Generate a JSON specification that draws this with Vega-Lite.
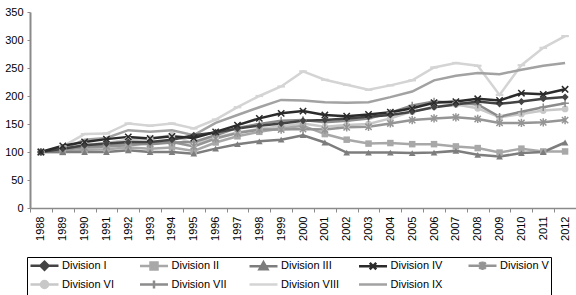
{
  "$schema": "https://vega.github.io/schema/vega-lite/v6.json",
  "width": 546,
  "height": 196,
  "autosize": {"type": "none"},
  "padding": {"left": 30, "top": 12, "right": 0, "bottom": 87},
  "background": "white",
  "config": {"view": {"stroke": null}, "font": "Liberation Sans"},
  "data": {"values": [
    {"year":"1988","division":"Division VIII","value":100},{"year":"1989","division":"Division VIII","value":110},{"year":"1990","division":"Division VIII","value":132},{"year":"1991","division":"Division VIII","value":133},{"year":"1992","division":"Division VIII","value":151},{"year":"1993","division":"Division VIII","value":147},{"year":"1994","division":"Division VIII","value":151},{"year":"1995","division":"Division VIII","value":142},{"year":"1996","division":"Division VIII","value":158},{"year":"1997","division":"Division VIII","value":180},{"year":"1998","division":"Division VIII","value":200},{"year":"1999","division":"Division VIII","value":217},{"year":"2000","division":"Division VIII","value":244},{"year":"2001","division":"Division VIII","value":229},{"year":"2002","division":"Division VIII","value":220},{"year":"2003","division":"Division VIII","value":211},{"year":"2004","division":"Division VIII","value":219},{"year":"2005","division":"Division VIII","value":228},{"year":"2006","division":"Division VIII","value":251},{"year":"2007","division":"Division VIII","value":259},{"year":"2008","division":"Division VIII","value":254},{"year":"2009","division":"Division VIII","value":202},{"year":"2010","division":"Division VIII","value":255},{"year":"2011","division":"Division VIII","value":286},{"year":"2012","division":"Division VIII","value":307},
    {"year":"1988","division":"Division IX","value":100},{"year":"1989","division":"Division IX","value":105},{"year":"1990","division":"Division IX","value":122},{"year":"1991","division":"Division IX","value":125},{"year":"1992","division":"Division IX","value":139},{"year":"1993","division":"Division IX","value":136},{"year":"1994","division":"Division IX","value":139},{"year":"1995","division":"Division IX","value":130},{"year":"1996","division":"Division IX","value":152},{"year":"1997","division":"Division IX","value":166},{"year":"1998","division":"Division IX","value":180},{"year":"1999","division":"Division IX","value":193},{"year":"2000","division":"Division IX","value":192},{"year":"2001","division":"Division IX","value":189},{"year":"2002","division":"Division IX","value":188},{"year":"2003","division":"Division IX","value":189},{"year":"2004","division":"Division IX","value":198},{"year":"2005","division":"Division IX","value":208},{"year":"2006","division":"Division IX","value":228},{"year":"2007","division":"Division IX","value":236},{"year":"2008","division":"Division IX","value":241},{"year":"2009","division":"Division IX","value":239},{"year":"2010","division":"Division IX","value":247},{"year":"2011","division":"Division IX","value":254},{"year":"2012","division":"Division IX","value":259},
    {"year":"1988","division":"Division VI","value":100},{"year":"1989","division":"Division VI","value":105},{"year":"1990","division":"Division VI","value":113},{"year":"1991","division":"Division VI","value":116},{"year":"1992","division":"Division VI","value":122},{"year":"1993","division":"Division VI","value":124},{"year":"1994","division":"Division VI","value":130},{"year":"1995","division":"Division VI","value":115},{"year":"1996","division":"Division VI","value":126},{"year":"1997","division":"Division VI","value":135},{"year":"1998","division":"Division VI","value":141},{"year":"1999","division":"Division VI","value":146},{"year":"2000","division":"Division VI","value":151},{"year":"2001","division":"Division VI","value":145},{"year":"2002","division":"Division VI","value":148},{"year":"2003","division":"Division VI","value":150},{"year":"2004","division":"Division VI","value":160},{"year":"2005","division":"Division VI","value":172},{"year":"2006","division":"Division VI","value":181},{"year":"2007","division":"Division VI","value":185},{"year":"2008","division":"Division VI","value":178},{"year":"2009","division":"Division VI","value":162},{"year":"2010","division":"Division VI","value":168},{"year":"2011","division":"Division VI","value":174},{"year":"2012","division":"Division VI","value":177},
    {"year":"1988","division":"Division II","value":100},{"year":"1989","division":"Division II","value":100},{"year":"1990","division":"Division II","value":104},{"year":"1991","division":"Division II","value":105},{"year":"1992","division":"Division II","value":108},{"year":"1993","division":"Division II","value":106},{"year":"1994","division":"Division II","value":108},{"year":"1995","division":"Division II","value":102},{"year":"1996","division":"Division II","value":117},{"year":"1997","division":"Division II","value":128},{"year":"1998","division":"Division II","value":136},{"year":"1999","division":"Division II","value":142},{"year":"2000","division":"Division II","value":147},{"year":"2001","division":"Division II","value":132},{"year":"2002","division":"Division II","value":122},{"year":"2003","division":"Division II","value":115},{"year":"2004","division":"Division II","value":116},{"year":"2005","division":"Division II","value":114},{"year":"2006","division":"Division II","value":114},{"year":"2007","division":"Division II","value":110},{"year":"2008","division":"Division II","value":107},{"year":"2009","division":"Division II","value":99},{"year":"2010","division":"Division II","value":106},{"year":"2011","division":"Division II","value":101},{"year":"2012","division":"Division II","value":101},
    {"year":"1988","division":"Division V","value":100},{"year":"1989","division":"Division V","value":104},{"year":"1990","division":"Division V","value":108},{"year":"1991","division":"Division V","value":110},{"year":"1992","division":"Division V","value":112},{"year":"1993","division":"Division V","value":115},{"year":"1994","division":"Division V","value":118},{"year":"1995","division":"Division V","value":110},{"year":"1996","division":"Division V","value":124},{"year":"1997","division":"Division V","value":134},{"year":"1998","division":"Division V","value":140},{"year":"1999","division":"Division V","value":140},{"year":"2000","division":"Division V","value":141},{"year":"2001","division":"Division V","value":140},{"year":"2002","division":"Division V","value":144},{"year":"2003","division":"Division V","value":145},{"year":"2004","division":"Division V","value":151},{"year":"2005","division":"Division V","value":157},{"year":"2006","division":"Division V","value":160},{"year":"2007","division":"Division V","value":162},{"year":"2008","division":"Division V","value":159},{"year":"2009","division":"Division V","value":152},{"year":"2010","division":"Division V","value":152},{"year":"2011","division":"Division V","value":153},{"year":"2012","division":"Division V","value":157},
    {"year":"1988","division":"Division VII","value":100},{"year":"1989","division":"Division VII","value":106},{"year":"1990","division":"Division VII","value":110},{"year":"1991","division":"Division VII","value":113},{"year":"1992","division":"Division VII","value":116},{"year":"1993","division":"Division VII","value":114},{"year":"1994","division":"Division VII","value":117},{"year":"1995","division":"Division VII","value":118},{"year":"1996","division":"Division VII","value":130},{"year":"1997","division":"Division VII","value":143},{"year":"1998","division":"Division VII","value":150},{"year":"1999","division":"Division VII","value":156},{"year":"2000","division":"Division VII","value":157},{"year":"2001","division":"Division VII","value":153},{"year":"2002","division":"Division VII","value":156},{"year":"2003","division":"Division VII","value":160},{"year":"2004","division":"Division VII","value":170},{"year":"2005","division":"Division VII","value":183},{"year":"2006","division":"Division VII","value":190},{"year":"2007","division":"Division VII","value":188},{"year":"2008","division":"Division VII","value":185},{"year":"2009","division":"Division VII","value":163},{"year":"2010","division":"Division VII","value":172},{"year":"2011","division":"Division VII","value":180},{"year":"2012","division":"Division VII","value":187},
    {"year":"1988","division":"Division III","value":100},{"year":"1989","division":"Division III","value":100},{"year":"1990","division":"Division III","value":100},{"year":"1991","division":"Division III","value":100},{"year":"1992","division":"Division III","value":103},{"year":"1993","division":"Division III","value":100},{"year":"1994","division":"Division III","value":100},{"year":"1995","division":"Division III","value":97},{"year":"1996","division":"Division III","value":106},{"year":"1997","division":"Division III","value":114},{"year":"1998","division":"Division III","value":119},{"year":"1999","division":"Division III","value":122},{"year":"2000","division":"Division III","value":130},{"year":"2001","division":"Division III","value":117},{"year":"2002","division":"Division III","value":99},{"year":"2003","division":"Division III","value":99},{"year":"2004","division":"Division III","value":99},{"year":"2005","division":"Division III","value":98},{"year":"2006","division":"Division III","value":99},{"year":"2007","division":"Division III","value":102},{"year":"2008","division":"Division III","value":95},{"year":"2009","division":"Division III","value":92},{"year":"2010","division":"Division III","value":98},{"year":"2011","division":"Division III","value":100},{"year":"2012","division":"Division III","value":117},
    {"year":"1988","division":"Division I","value":100},{"year":"1989","division":"Division I","value":106},{"year":"1990","division":"Division I","value":112},{"year":"1991","division":"Division I","value":115},{"year":"1992","division":"Division I","value":118},{"year":"1993","division":"Division I","value":118},{"year":"1994","division":"Division I","value":122},{"year":"1995","division":"Division I","value":130},{"year":"1996","division":"Division I","value":135},{"year":"1997","division":"Division I","value":142},{"year":"1998","division":"Division I","value":147},{"year":"1999","division":"Division I","value":151},{"year":"2000","division":"Division I","value":156},{"year":"2001","division":"Division I","value":157},{"year":"2002","division":"Division I","value":160},{"year":"2003","division":"Division I","value":163},{"year":"2004","division":"Division I","value":166},{"year":"2005","division":"Division I","value":172},{"year":"2006","division":"Division I","value":180},{"year":"2007","division":"Division I","value":185},{"year":"2008","division":"Division I","value":190},{"year":"2009","division":"Division I","value":186},{"year":"2010","division":"Division I","value":190},{"year":"2011","division":"Division I","value":195},{"year":"2012","division":"Division I","value":198},
    {"year":"1988","division":"Division IV","value":100},{"year":"1989","division":"Division IV","value":111},{"year":"1990","division":"Division IV","value":118},{"year":"1991","division":"Division IV","value":123},{"year":"1992","division":"Division IV","value":127},{"year":"1993","division":"Division IV","value":124},{"year":"1994","division":"Division IV","value":128},{"year":"1995","division":"Division IV","value":125},{"year":"1996","division":"Division IV","value":136},{"year":"1997","division":"Division IV","value":148},{"year":"1998","division":"Division IV","value":160},{"year":"1999","division":"Division IV","value":169},{"year":"2000","division":"Division IV","value":173},{"year":"2001","division":"Division IV","value":166},{"year":"2002","division":"Division IV","value":164},{"year":"2003","division":"Division IV","value":167},{"year":"2004","division":"Division IV","value":171},{"year":"2005","division":"Division IV","value":178},{"year":"2006","division":"Division IV","value":188},{"year":"2007","division":"Division IV","value":190},{"year":"2008","division":"Division IV","value":195},{"year":"2009","division":"Division IV","value":192},{"year":"2010","division":"Division IV","value":205},{"year":"2011","division":"Division IV","value":203},{"year":"2012","division":"Division IV","value":212}
  ]},
  "encoding": {
    "x": {
      "field": "year", "type": "ordinal",
      "scale": {"type": "band", "paddingInner": 0, "paddingOuter": 0},
      "axis": {"title": null, "labelAngle": -90, "labelAlign": "right", "labelBaseline": "middle", "labelFontSize": 11, "labelColor": "black", "labelPadding": 4, "tickBand": "extent", "domainColor": "#8a8a8a", "domainWidth": 1.5, "tickColor": "#8a8a8a", "tickSize": 4, "grid": false}
    },
    "y": {
      "field": "value", "type": "quantitative",
      "scale": {"domain": [0, 350], "nice": false},
      "axis": {"title": null, "values": [0, 50, 100, 150, 200, 250, 300, 350], "labelFontSize": 11, "labelColor": "black", "labelPadding": 4, "domainColor": "#8a8a8a", "domainWidth": 2, "tickColor": "#8a8a8a", "tickSize": 3, "grid": false}
    },
    "color": {
      "field": "division", "type": "nominal",
      "scale": {
        "domain": ["Division I", "Division II", "Division III", "Division IV", "Division V", "Division VI", "Division VII", "Division VIII", "Division IX"],
        "range": ["#434343", "#a8a8a8", "#7d7d7d", "#2b2b2b", "#959595", "#c8c8c8", "#8c8c8c", "#d4d4d4", "#a2a2a2"]
      },
      "legend": {
        "title": null, "orient": "none", "legendX": -3, "legendY": 245,
        "direction": "horizontal", "columns": 5, "gridAlign": "all",
        "strokeColor": "black", "padding": 2, "columnPadding": 13.5, "rowPadding": 0,
        "symbolType": "stroke", "symbolSize": 100, "labelOffset": 20, "labelFontSize": 11, "labelColor": "black", "labelFont": "Liberation Sans",
        "encode": {
          "symbols": {
            "update": {
              "shape": {"signal": "datum.value === 'Division I' ? 'M-1,0H4.6M1,0L1.8,-0.8L2.6,0L1.8,0.8Z' : datum.value === 'Division II' ? 'M-1,0H4.6M1.1,-0.7H2.5V0.7H1.1Z' : datum.value === 'Division III' ? 'M-1,0H4.6M1.8,-0.8L2.6,0.6H1Z' : datum.value === 'Division IV' ? 'M-1,0H4.6M1.15,-0.65L2.45,0.65M1.15,0.65L2.45,-0.65' : datum.value === 'Division V' ? 'M-1,0H4.6M1.15,-0.65L2.45,0.65M1.15,0.65L2.45,-0.65M1.8,-0.85V0.85' : datum.value === 'Division VI' ? 'M-1,0H4.6M1.1,0A0.7,0.7 0 1,0 2.5,0A0.7,0.7 0 1,0 1.1,0Z' : datum.value === 'Division VII' ? 'M-1,0H4.6M1.8,-0.8V0.8' : 'M-1,0H4.6'"},
              "fill": {"signal": "scale('color', datum.value)"},
              "stroke": {"signal": "scale('color', datum.value)"},
              "strokeWidth": {"value": 2.5},
              "opacity": {"value": 1}
            }
          }
        }
      }
    }
  },
  "layer": [
    {"mark": {"type": "line", "strokeWidth": 2.5}},
    {"transform": [{"filter": "datum.division === 'Division VIII'"}], "mark": {"type": "point", "shape": "M-1.2,-0.35H1.2V0.35H-1.2Z", "filled": true, "opacity": 1, "size": 40}},
    {"transform": [{"filter": "datum.division === 'Division VI'"}], "mark": {"type": "point", "shape": "circle", "filled": true, "opacity": 1, "size": 45}},
    {"transform": [{"filter": "datum.division === 'Division II'"}], "mark": {"type": "point", "shape": "square", "filled": true, "opacity": 1, "size": 42}},
    {"transform": [{"filter": "datum.division === 'Division V'"}], "mark": {"type": "point", "shape": "M-1,-1L1,1M-1,1L1,-1M0,-1.3V1.3", "filled": false, "opacity": 1, "strokeWidth": 1.5, "size": 40}},
    {"transform": [{"filter": "datum.division === 'Division VII'"}], "mark": {"type": "point", "shape": "M0,-1.2V1.2M-1.2,0H1.2", "filled": false, "opacity": 1, "strokeWidth": 1.5, "size": 40}},
    {"transform": [{"filter": "datum.division === 'Division III'"}], "mark": {"type": "point", "shape": "triangle-up", "filled": true, "opacity": 1, "size": 45}},
    {"transform": [{"filter": "datum.division === 'Division I'"}], "mark": {"type": "point", "shape": "diamond", "filled": true, "opacity": 1, "size": 50}},
    {"transform": [{"filter": "datum.division === 'Division IV'"}], "mark": {"type": "point", "shape": "M-1,-1L1,1M-1,1L1,-1", "filled": false, "opacity": 1, "strokeWidth": 1.5, "size": 40}}
  ]
}
